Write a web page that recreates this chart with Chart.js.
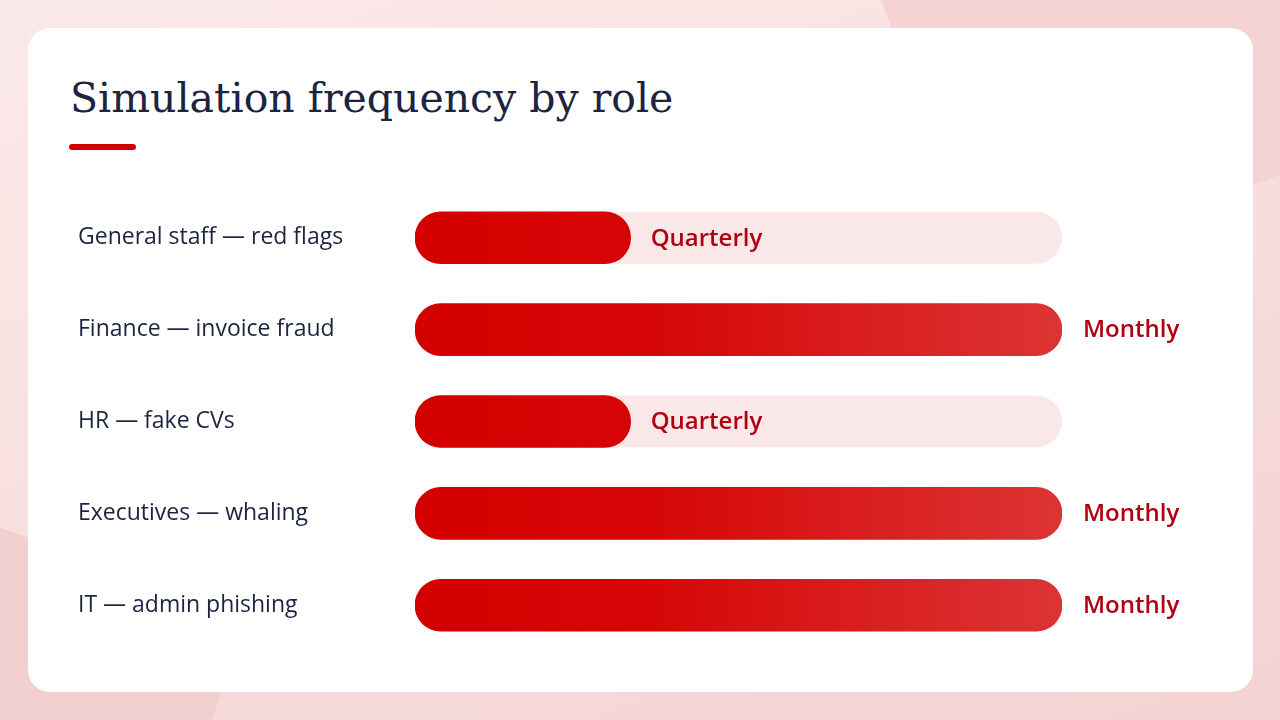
<!DOCTYPE html>
<html><head><meta charset="utf-8">
<script src="https://cdn.jsdelivr.net/npm/chart.js@4"></script>
<style>
html,body{margin:0;padding:0;width:1280px;height:720px;overflow:hidden;font-family:"Open Sans",sans-serif}
body{background:linear-gradient(160deg,#fbe9e9 0%,#f7dcdc 60%,#f4d2d2 100%);position:relative}
.blob1{position:absolute;right:-60px;top:-80px;width:420px;height:300px;background:#f5d3d3;transform:rotate(-20deg)}
.blob2{position:absolute;left:-80px;bottom:-60px;width:300px;height:220px;background:#f3d0d0;transform:rotate(20deg)}
.card{position:absolute;left:28px;top:28px;width:1225px;height:664px;background:#fff;border-radius:22px}
h1{position:absolute;left:42px;top:46px;margin:0;font-family:"DejaVu Serif","Liberation Serif",serif;font-weight:400;font-size:41px;color:#1c2440;letter-spacing:0}
.bar{position:absolute;left:41px;top:116px;width:67px;height:6px;border-radius:3px;background:#d40000}
#c{position:absolute;left:0;top:150px}
</style></head><body>
<div class="blob1"></div><div class="blob2"></div>
<div class="card">
<h1>Simulation frequency by role</h1><div class="bar"></div>
<canvas id="c" width="1225" height="487"></canvas>
</div>
<script>
const categories=["General staff — red flags","Finance — invoice fraud","HR — fake CVs","Executives — whaling","IT — admin phishing"];
const perYear=[4,12,4,12,12];
const freqLabels=["Quarterly","Monthly","Quarterly","Monthly","Monthly"];
const maxPerYear=12;
const ctx=document.getElementById('c').getContext('2d');
const plugin={id:'deco',
beforeDatasetsDraw(ch){const c=ch.ctx,a=ch.chartArea;ch.getDatasetMeta(0).data.forEach(b=>{c.save();c.fillStyle='#fae8e8';c.beginPath();c.roundRect(a.left,b.y-26,a.right-a.left,52,26);c.fill();c.restore();});},
afterDatasetsDraw(ch){const c=ch.ctx,a=ch.chartArea;ch.getDatasetMeta(0).data.forEach((b,i)=>{c.save();c.font='600 24px "Open Sans",sans-serif';c.fillStyle='#b00012';c.textBaseline='middle';const x=perYear[i]<maxPerYear?b.x+20:a.right+21;c.fillText(freqLabels[i],x,b.y+1);c.restore();});}};
new Chart(ctx,{type:'bar',
data:{labels:categories,datasets:[{data:perYear,barThickness:52,borderRadius:26,borderSkipped:false,
backgroundColor(cx){const a=cx.chart.chartArea;if(!a)return '#d40000';const g=cx.chart.ctx.createLinearGradient(a.left,0,a.right,0);g.addColorStop(0,'#d40000');g.addColorStop(0.35,'#d60505');g.addColorStop(1,'#dc3434');return g;}}]},
options:{indexAxis:'y',responsive:false,animation:false,
layout:{padding:{left:50,right:191,top:0,bottom:0}},
plugins:{legend:{display:false},tooltip:{enabled:false}},
scales:{x:{display:false,min:0,max:maxPerYear},
y:{grid:{display:false},border:{display:false},afterFit(s){s.width=337;},
ticks:{crossAlign:'far',padding:0,color:'#1c2440',font:{family:'"Open Sans",sans-serif',size:23,weight:500}}}}},
plugins:[plugin]});
</script></body></html>
